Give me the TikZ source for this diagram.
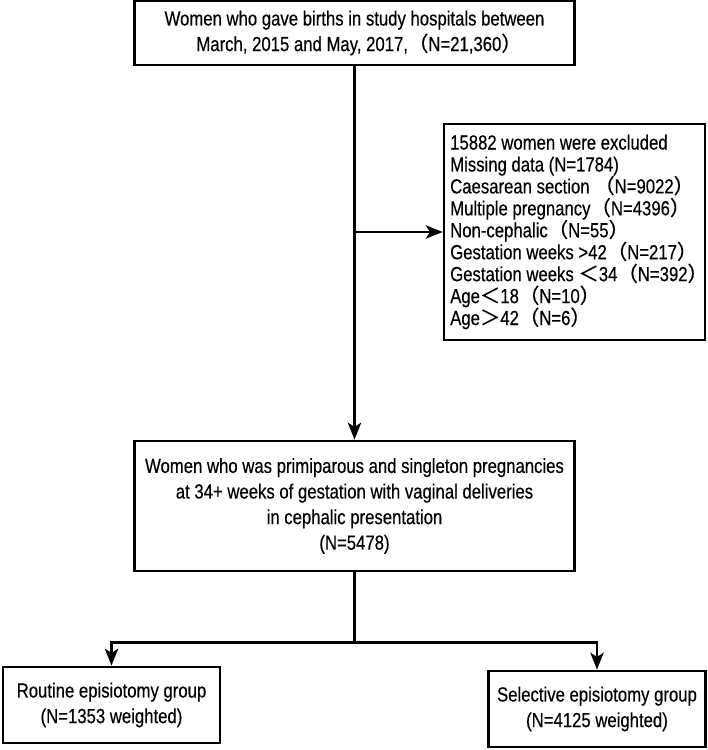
\documentclass[tikz,border=0pt]{standalone}
\usepackage{fontspec}
\setmainfont{Liberation Sans}[FakeStretch=0.82,FakeBold=0.4]
\newfontfamily\cjk{Noto Sans CJK SC}[FakeBold=0.4]
\newcommand{\lpar}{{\cjk （}}
\newcommand{\rpar}{{\cjk ）}\kern-0.45em}
\newcommand{\fwlt}{{\cjk ＜}}
\newcommand{\fwgt}{{\cjk ＞}}
\usepackage{tikz}
\usetikzlibrary{arrows.meta}
\usetikzlibrary{positioning}

\begin{document}
\begin{tikzpicture}[x=0.025cm,y=-0.025cm,
  font=\fontsize{14.5}{18.2}\selectfont,
  box/.style={draw,line width=2pt,align=center,inner sep=0pt},
  link/.style={line width=1.7pt,-{Stealth[length=12pt,width=9.5pt,inset=3pt]}}]
\useasboundingbox (0,0) rectangle (708,750);
\node[box,align=left,minimum width=6.525cm,minimum height=5.4cm,
  font=\fontsize{14.5}{15.6}\selectfont] at (574.5,232) (excl)
  {15882 women were excluded\\
   Missing data (N=1784)\\
   Caesarean section \lpar N=9022\rpar\\
   Multiple pregnancy\lpar N=4396\rpar\\
   Non-cephalic\lpar N=55\rpar\\
   Gestation weeks >42\lpar N=217\rpar\\
   Gestation weeks \fwlt 34\lpar N=392\rpar\\
   Age\fwlt 18\lpar N=10\rpar\\
   Age\fwgt 42\lpar N=6\rpar};
\node[box,minimum width=11cm,minimum height=1.6cm] at (354.5,33) (all)
  {Women who gave births in study hospitals between\\
   March, 2015 and May, 2017,\lpar N=21,360\rpar};
\node[box,minimum width=11cm,minimum height=3.25cm] at (354.5,506) (incl)
  {Women who was primiparous and singleton pregnancies\\
   at 34+ weeks of gestation with vaginal deliveries\\
   in cephalic presentation\\
   (N=5478)};
\node[box,minimum width=5.425cm,minimum height=1.9cm] at (111.5,705) (rout)
  {Routine episiotomy group\\(N=1353 weighted)};
\node[box,minimum width=5.425cm,minimum height=1.9cm] at (597,709) (sel)
  {Selective episiotomy group\\(N=4125 weighted)};
% flow
\draw[link] (all) -- (incl);
\draw[link] (all.south |- excl.west) -- (excl.west);
\draw[line width=1.7pt] (incl.south) -- ++(0,70) coordinate (split);
\draw[link] (split) -| (rout.north);
\draw[link] (split) -| (sel.north);
\end{tikzpicture}
\end{document}
